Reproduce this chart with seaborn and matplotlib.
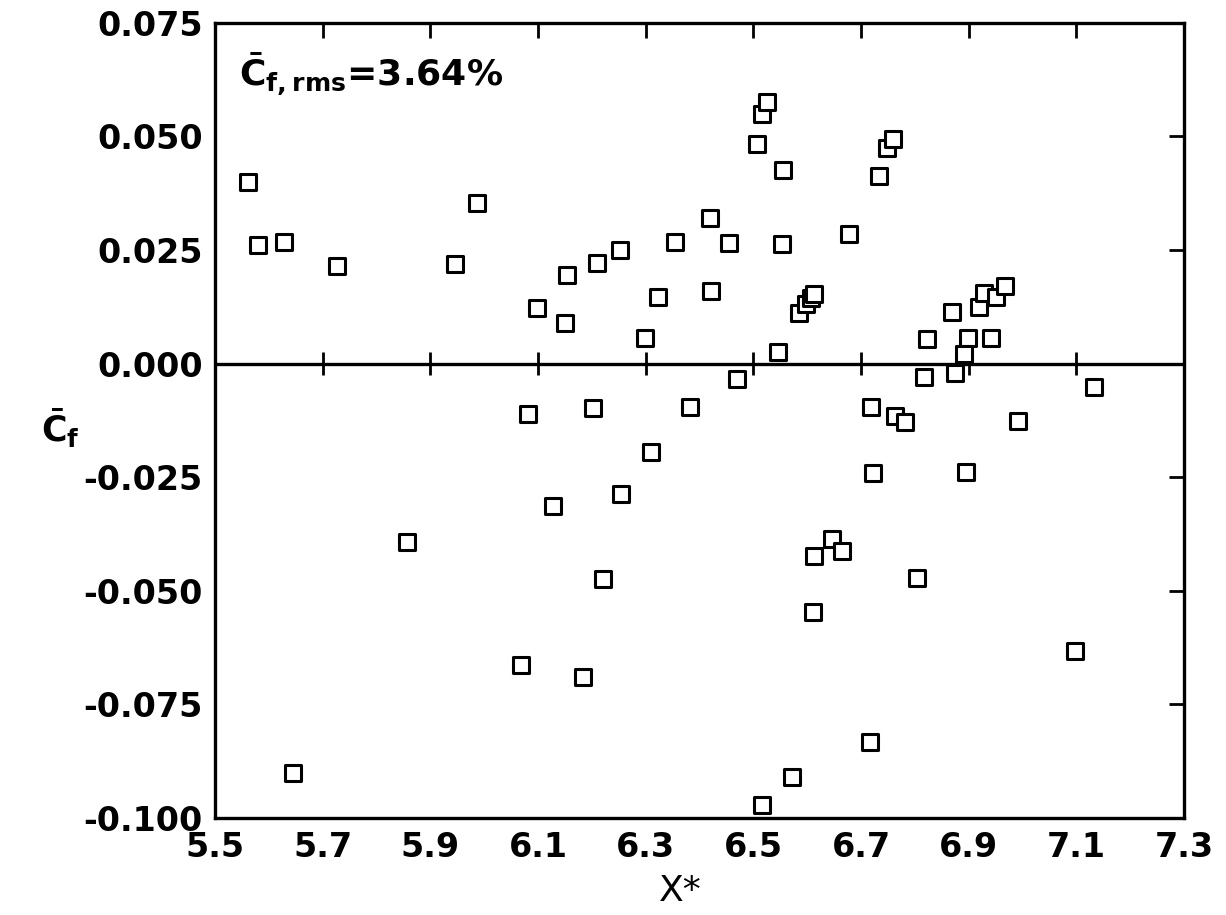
import pandas as pd
import matplotlib
matplotlib.use("Agg")
import matplotlib.pyplot as plt
import seaborn as sns


# Data (X*, mean Cf)
x_star = [
    5.561, 5.580, 5.629, 5.727, 5.946, 5.987, 6.099, 6.151, 6.154, 6.210,
    6.253, 6.299, 6.323, 6.355, 6.420, 6.422, 6.455, 6.506, 6.517, 6.526,
    6.556, 6.554, 6.545, 6.584, 6.597, 6.608, 6.613, 6.678, 6.734, 6.749,
    6.760, 6.823, 6.870, 6.920, 6.928, 6.950, 6.968, 6.898, 6.941, 6.892,
    6.470, 6.818, 6.875, 7.132, 6.082, 6.203, 6.383, 6.719, 6.764, 6.781,
    6.991, 6.309, 6.723, 6.896, 6.255, 6.128, 5.857, 6.647, 6.665, 6.612,
    6.221, 6.805, 6.610, 7.097, 6.069, 6.184, 6.717, 5.645, 6.572, 6.517,
]
cf_mean = [
    0.0400, 0.0261, 0.0268, 0.0215, 0.0220, 0.0354, 0.0123, 0.0090, 0.0195, 0.0222,
    0.0250, 0.0057, 0.0147, 0.0268, 0.0321, 0.0160, 0.0266, 0.0484, 0.0550, 0.0576,
    0.0427, 0.0264, 0.0026, 0.0112, 0.0132, 0.0145, 0.0154, 0.0286, 0.0413, 0.0475,
    0.0495, 0.0055, 0.0114, 0.0125, 0.0156, 0.0147, 0.0171, 0.0057, 0.0057, 0.0022,
    -0.0033, -0.0029, -0.0020, -0.0051, -0.0110, -0.0097, -0.0095, -0.0095, -0.0115, -0.0128,
    -0.0126, -0.0194, -0.0240, -0.0238, -0.0287, -0.0313, -0.0392, -0.0386, -0.0412, -0.0423,
    -0.0474, -0.0471, -0.0546, -0.0632, -0.0663, -0.0689, -0.0832, -0.0900, -0.0909, -0.0971,
]
x_ticks = [5.5, 5.7, 5.9, 6.1, 6.3, 6.5, 6.7, 6.9, 7.1, 7.3]
y_ticks = [-0.100, -0.075, -0.050, -0.025, 0.000, 0.025, 0.050, 0.075]
rms_text = "3.64%"

df = pd.DataFrame({"X*": x_star, "Cf": cf_mean})


sns.set_theme(style="white")
plt.rcParams["font.family"] = ["DejaVu Sans"]
plt.rcParams["font.weight"] = "bold"
plt.rcParams["mathtext.fontset"] = "dejavusans"
plt.rcParams["text.color"] = "black"
plt.rcParams["axes.labelcolor"] = "black"

fig = plt.figure(figsize=(12.26, 9.15), dpi=100)
ax = fig.add_axes([0.1754, 0.106, 0.7903, 0.869])

# zero line with small crossing ticks at each x tick
ax.axhline(0, color="black", linewidth=2.4, zorder=2)
tick_half = 0.0026
ax.vlines(x_ticks[1:-1], -tick_half, tick_half, color="black",
          linewidth=2, zorder=2)

sns.scatterplot(
    data=df, x="X*", y="Cf", ax=ax,
    marker="s", s=130, facecolor="white", edgecolor="black",
    linewidth=2.2, zorder=3
)

ax.set_xlim(x_ticks[0], x_ticks[-1])
ax.set_ylim(y_ticks[0], y_ticks[-1])
ax.set_xticks(x_ticks)
ax.set_yticks(y_ticks)
ax.set_xticklabels([f"{v:.1f}" for v in x_ticks])
ax.set_yticklabels([f"{v:.3f}" for v in y_ticks])

for sp in ax.spines.values():
    sp.set_linewidth(2.4)
    sp.set_color("black")

ax.tick_params(axis="both", which="both", direction="in", length=11, width=2,
               top=True, right=True, labelsize=24, pad=9, colors="black")
for lab in ax.get_xticklabels() + ax.get_yticklabels():
    lab.set_fontweight("bold")

ax.set_xlabel("X*", fontsize=26, fontweight="normal")
ax.xaxis.set_label_coords(0.48, -0.07)
ax.set_ylabel(r"$\mathbf{\bar{C}_f}$", fontsize=25, rotation=0,
              ha="center", va="center")
ax.yaxis.set_label_coords(-0.16, 0.49)

ax.text(0.025, 0.965, r"$\mathbf{\bar{C}_{f,rms}}$" + "=" + rms_text,
        transform=ax.transAxes, fontsize=26, fontweight="bold",
        ha="left", va="top")

plt.savefig("out.png", dpi=100)
